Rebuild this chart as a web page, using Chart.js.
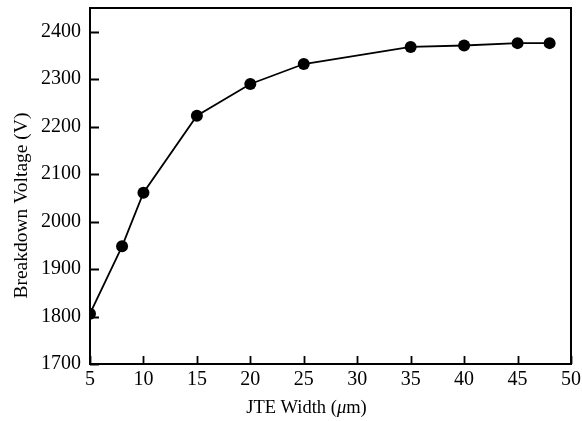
<!DOCTYPE html>
<html>
<head>
<meta charset="utf-8">
<script src="https://cdn.jsdelivr.net/npm/chart.js@4"></script>
<style>
  html, body { margin: 0; padding: 0; background: #fff; }
  #wrap { width: 582px; height: 421px; position: relative; }
</style>
</head>
<body>
<div id="wrap"><canvas id="chart"></canvas></div>
<script>
// JTE width (um) and measured breakdown voltage (V)
const widths = [5, 8, 10, 15, 20, 25, 35, 40, 45, 48];
const voltages = [1806, 1948, 2061, 2223, 2290, 2332, 2368, 2371, 2376, 2376];

const xTitle = ['JTE Width (', 'μ', 'm)'];
const yTitle = 'Breakdown Voltage (V)';

const serif = '"Liberation Serif", "DejaVu Serif", serif';

// frame around the plot, ticks pointing inward, and the axis titles
const framePlugin = {
    id: 'frame',
    afterDraw(chart) {
        const ctx = chart.ctx;
        const area = chart.chartArea;
        const xs = chart.scales.x;
        const ys = chart.scales.y;
        ctx.save();
        ctx.strokeStyle = '#000';
        ctx.lineWidth = 2;
        ctx.strokeRect(area.left, area.top, area.right - area.left, area.bottom - area.top);

        ctx.lineWidth = 1.8;
        ctx.beginPath();
        xs.ticks.forEach(t => {
            const px = Math.round(xs.getPixelForValue(t.value)) + 0.5;
            ctx.moveTo(px, area.bottom);
            ctx.lineTo(px, area.bottom - 8);
        });
        ys.ticks.forEach(t => {
            if (t.value > 2400) return;
            const py = Math.round(ys.getPixelForValue(t.value)) + 0.5;
            ctx.moveTo(area.left, py);
            ctx.lineTo(area.left + 9, py);
        });
        ctx.stroke();

        // x title, with an italic mu
        ctx.fillStyle = '#000';
        ctx.textBaseline = 'alphabetic';
        const upright = '18.5px ' + serif;
        const italic = 'italic 18.5px ' + serif;
        const fonts = [upright, italic, upright];
        let total = 0;
        xTitle.forEach((s, i) => { ctx.font = fonts[i]; total += ctx.measureText(s).width; });
        let x = area.left + (area.right - area.left) * 0.45 - total / 2;
        xTitle.forEach((s, i) => {
            ctx.font = fonts[i];
            ctx.fillText(s, x, 413);
            x += ctx.measureText(s).width;
        });

        // y title
        ctx.font = '19.5px ' + serif;
        ctx.textAlign = 'center';
        ctx.translate(27, area.top + (area.bottom - area.top) * 0.555);
        ctx.rotate(-Math.PI / 2);
        ctx.fillText(yTitle, 0, 0);
        ctx.restore();
    }
};

new Chart(document.getElementById('chart'), {
    type: 'scatter',
    data: {
        datasets: [{
            data: widths.map((w, i) => ({ x: w, y: voltages[i] })),
            showLine: true,
            borderColor: '#000',
            borderWidth: 1.8,
            pointRadius: 6,
            pointHoverRadius: 6,
            pointBackgroundColor: '#000',
            pointBorderWidth: 0,
            tension: 0,
            clip: 0
        }]
    },
    options: {
        responsive: true,
        maintainAspectRatio: false,
        animation: false,
        events: [],
        layout: { padding: { top: 8, right: 11, left: 0, bottom: 0 } },
        plugins: {
            legend: { display: false },
            tooltip: { enabled: false }
        },
        scales: {
            x: {
                type: 'linear',
                min: 5,
                max: 50,
                grid: { display: false, drawTicks: false },
                border: { display: false },
                ticks: {
                    stepSize: 5,
                    padding: 4,
                    color: '#000',
                    font: { family: serif, size: 20 },
                    maxRotation: 0
                },
                afterFit(scale) {
                    scale.height = 57;
                    scale.paddingLeft = 0;
                    scale.paddingRight = 0;
                }
            },
            y: {
                min: 1700,
                max: 2450,
                grid: { display: false, drawTicks: false },
                border: { display: false },
                ticks: {
                    stepSize: 100,
                    padding: 9,
                    color: '#000',
                    font: { family: serif, size: 20 },
                    callback: v => (v % 100 === 0 && v <= 2400) ? v : ''
                },
                afterFit(scale) {
                    scale.width = 90;
                    scale.paddingTop = 0;
                    scale.paddingBottom = 0;
                }
            }
        }
    },
    plugins: [framePlugin]
});
</script>
</body>
</html>
